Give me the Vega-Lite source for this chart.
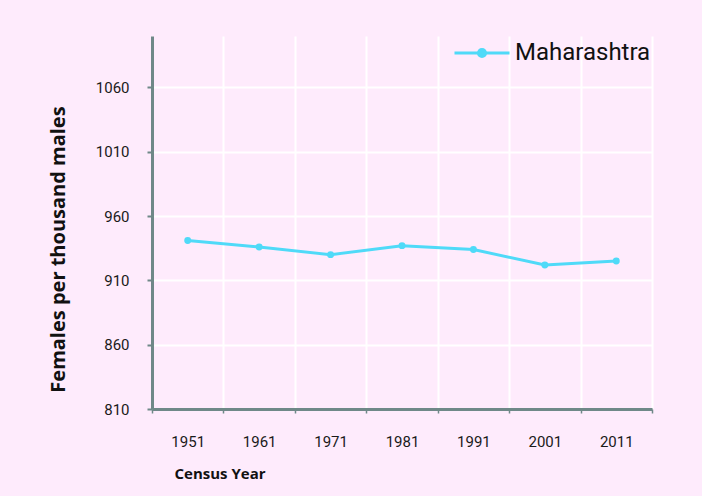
{
  "$schema": "https://vega.github.io/schema/vega-lite/v6.json",
  "width": 500,
  "height": 373,
  "autosize": {"type": "none"},
  "padding": {"left": 152, "top": 36, "right": 50, "bottom": 87},
  "background": "#feebfc",
  "config": {
    "view": {"stroke": null, "fill": "#feebfc"},
    "font": "Roboto"
  },
  "data": {
    "values": [
      {"year": 1951, "value": 941, "state": "Maharashtra"},
      {"year": 1961, "value": 936, "state": "Maharashtra"},
      {"year": 1971, "value": 930, "state": "Maharashtra"},
      {"year": 1981, "value": 937, "state": "Maharashtra"},
      {"year": 1991, "value": 934, "state": "Maharashtra"},
      {"year": 2001, "value": 922, "state": "Maharashtra"},
      {"year": 2011, "value": 925, "state": "Maharashtra"}
    ]
  },
  "mark": {"type": "line", "strokeWidth": 3, "point": {"filled": true, "size": 48}},
  "encoding": {
    "x": {
      "field": "year",
      "type": "quantitative",
      "scale": {"domain": [1946, 2016], "nice": false, "zero": false},
      "axis": {
        "values": [1946, 1951, 1956, 1961, 1966, 1971, 1976, 1981, 1986, 1991, 1996, 2001, 2006, 2011, 2016],
        "format": "d",
        "labelExpr": "(datum.value - 1946) % 10 === 0 ? '' : datum.label",
        "grid": true,
        "gridColor": "#ffffff",
        "gridWidth": 2,
        "gridOpacity": {"condition": {"test": "(datum.value - 1946) % 10 === 0", "value": 1}, "value": 0},
        "tickOpacity": {"condition": {"test": "(datum.value - 1946) % 10 === 0", "value": 1}, "value": 0},
        "tickColor": "#6f8888",
        "tickSize": 4,
        "tickWidth": 1.5,
        "domainColor": "#6f8888",
        "domainWidth": 3,
        "labelFont": "Roboto",
        "labelFontSize": 15,
        "labelColor": "#1a1a1a",
        "labelPadding": 21,
        "labelFlush": false,
        "labelOverlap": false,
        "title": "Census Year",
        "titleFont": "Open Sans",
        "titleFontSize": 15,
        "titleFontWeight": "bold",
        "titleColor": "#111111",
        "titleAnchor": "start",
        "titleAlign": "left",
        "titleX": 22,
        "titleY": 57
      }
    },
    "y": {
      "field": "value",
      "type": "quantitative",
      "scale": {"domain": [810, 1100], "nice": false, "zero": false},
      "axis": {
        "values": [810, 860, 910, 960, 1010, 1060],
        "format": "d",
        "grid": true,
        "gridColor": "#ffffff",
        "gridWidth": 2,
        "tickColor": "#6f8888",
        "tickSize": 5,
        "tickWidth": 2,
        "domainColor": "#6f8888",
        "domainWidth": 3,
        "labelFont": "Roboto",
        "labelFontSize": 15,
        "labelColor": "#1a1a1a",
        "labelPadding": 18,
        "title": "Females per thousand males",
        "titleFont": "Open Sans",
        "titleFontSize": 20,
        "titleFontWeight": "bold",
        "titleColor": "#111111",
        "titleAngle": -90,
        "titleAnchor": "middle",
        "titleAlign": "center",
        "titleBaseline": "middle",
        "titleX": -94,
        "titleY": 213
      }
    },
    "color": {
      "field": "state",
      "type": "nominal",
      "scale": {"range": ["#4fdaf8"]},
      "legend": {
        "orient": "none",
        "legendX": 301,
        "legendY": -12,
        "title": null,
        "symbolType": "M-1,0L1,0M-0.13,0A0.13,0.13 0 1,1 0.13,0A0.13,0.13 0 1,1 -0.13,0",
        "symbolSize": 3025,
        "symbolStrokeWidth": 3,
        "symbolFillColor": "#4fdaf8",
        "labelFont": "Roboto",
        "labelFontSize": 24,
        "labelColor": "#111111",
        "labelOffset": 4,
        "labelLimit": 300
      }
    }
  }
}
